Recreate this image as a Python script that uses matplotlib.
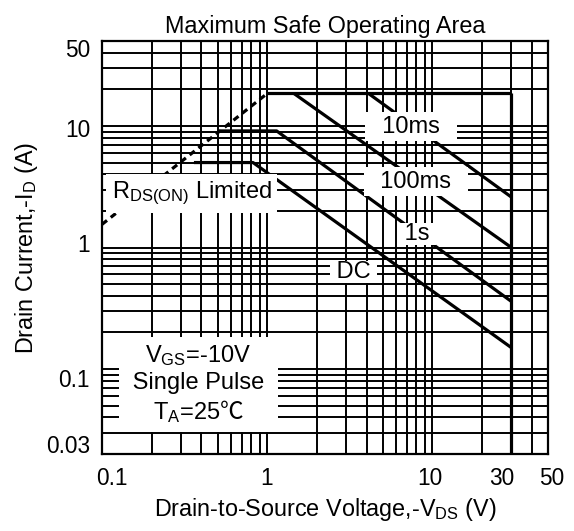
import matplotlib
matplotlib.use("Agg")
import matplotlib.pyplot as plt
from matplotlib.ticker import LogLocator, NullFormatter, FixedLocator, FixedFormatter
from matplotlib.transforms import ScaledTranslation

plt.rcParams['font.family'] = ['Liberation Sans', 'Noto Sans CJK SC', 'DejaVu Sans']
plt.rcParams['mathtext.fontset'] = 'custom'
plt.rcParams['mathtext.rm'] = 'Liberation Sans'
plt.rcParams['mathtext.sf'] = 'Noto Sans CJK SC'
plt.rcParams['mathtext.default'] = 'regular'

# ---- data ----
x_ticks = [0.1, 1, 10, 30, 50]
x_tick_labels = ['0.1', '1', '10', '30', '50']
y_ticks = [0.03, 0.1, 1, 10, 50]
y_tick_labels = ['0.03', '0.1', '1', '10', '50']

rds_v = [0.1, 1.0]
rds_i = [1.55, 18.5]
limit_v = [1.0, 30]
limit_i = [18.5, 18.5]
vmax_v = [30, 30]
vmax_i = [18.5, 0.02]
ms10_v = [4.1, 30]
ms10_i = [18.5, 2.6]
ms100_v = [1.45, 30]
ms100_i = [18.5, 1.0]
s1_v = [0.52, 1.14, 30]
s1_i = [9.1, 9.1, 0.36]
dc_v = [0.36, 0.82, 30]
dc_i = [5.0, 5.0, 0.15]

# ---- style / layout ----
W, H = 574, 531
fig = plt.figure(figsize=(W / 100, H / 100), dpi=100)
L, R, T, B = 102, 548, 41, 454
ax = fig.add_axes([L / W, (H - B) / H, (R - L) / W, (B - T) / H])
ax.set_xscale('log')
ax.set_yscale('log')
ax.set_xlim(0.1, 50)
ax.set_ylim(0.02, 50)

ax.xaxis.set_major_locator(FixedLocator(x_ticks))
ax.xaxis.set_major_formatter(FixedFormatter(x_tick_labels))
ax.yaxis.set_major_locator(FixedLocator(y_ticks))
ax.yaxis.set_major_formatter(FixedFormatter(y_tick_labels))
for a in (ax.xaxis, ax.yaxis):
    a.set_minor_locator(LogLocator(base=10, subs=range(2, 10), numticks=20))
    a.set_minor_formatter(NullFormatter())
ax.tick_params(which='both', length=0)
ax.tick_params(axis='x', pad=9.5, labelsize=16.3)
ax.tick_params(axis='y', pad=8.6, labelsize=16.3)
ax.grid(which='both', color='black', lw=1.4, zorder=1)
ax.set_axisbelow(True)
for s in ax.spines.values():
    s.set_linewidth(1.6)

# nudge tick labels (pixels) the way the reference places them
x_nudge = [10, -1, -3, -10, 4]
y_nudge = [-11, -9, 5, -2, -7]
for tk, dx in zip(ax.xaxis.get_major_ticks(), x_nudge):
    tk.label1.set_transform(tk.label1.get_transform() + ScaledTranslation(dx / 100, 0, fig.dpi_scale_trans))
for tk, dy in zip(ax.yaxis.get_major_ticks(), y_nudge):
    tk.label1.set_transform(tk.label1.get_transform() + ScaledTranslation(0, dy / 100, fig.dpi_scale_trans))

lw = 2.3
ax.plot(rds_v, rds_i, color='black', lw=lw, ls=(0, (2.0, 1.5)), zorder=3)
for v, i in [(limit_v, limit_i), (vmax_v, vmax_i), (ms10_v, ms10_i),
             (ms100_v, ms100_i), (s1_v, s1_i), (dc_v, dc_i)]:
    ax.plot(v, i, color='black', lw=lw, zorder=3, solid_capstyle='butt')

fs = 17
def label(x, y, s, pad):
    ax.text(x, y, s, transform=ax.transAxes, ha='center', va='center', fontsize=fs,
            bbox=dict(facecolor='white', edgecolor='none', pad=pad), zorder=5)

label(0.6928, 0.7925, '  10ms  ', 2.5)
label(0.7040, 0.6598, '  100ms  ', 2.5)
label(0.7070, 0.5327, ' 1s ', 0)
label(0.5635, 0.4395, ' DC ', 0)
label(0.2011, 0.6312, r'R$_{DS(ON)}$ Limited', 4)
ax.text(0.2159, 0.1688, 'V$_{GS}$=-10V\n Single Pulse \nT$_{A}$=25$\\mathsf{\u2103}$',
        transform=ax.transAxes, ha='center', va='center', fontsize=fs, linespacing=1.2,
        bbox=dict(facecolor='white', edgecolor='none', pad=5), zorder=5)

ax.set_title('Maximum Safe Operating Area', fontsize=16.8, pad=5.8)
ax.set_xlabel('Drain-to-Source Voltage,-V$_{DS}$ (V)', fontsize=16.8, labelpad=4.5)
ax.set_ylabel('Drain Current,-I$_{D}$ (A)', fontsize=16.8, labelpad=4)

fig.savefig('out.png', dpi=100)
